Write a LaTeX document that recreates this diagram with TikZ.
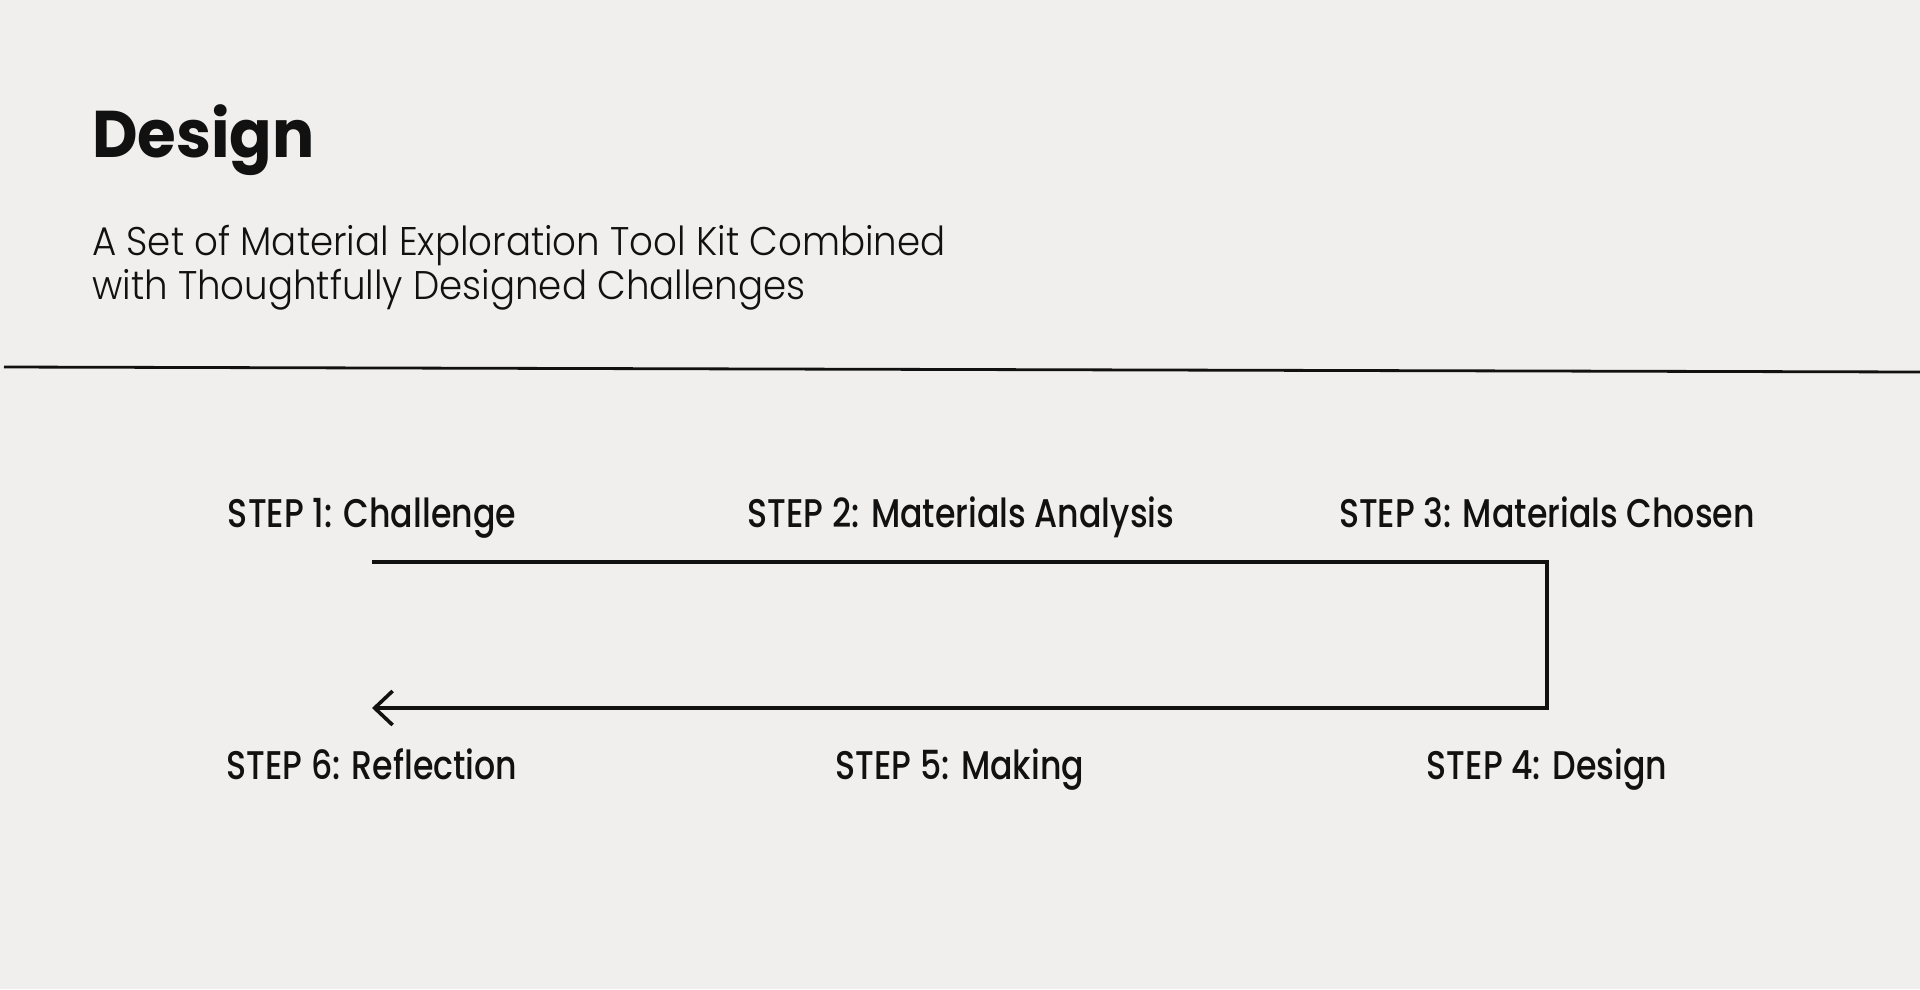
\documentclass[tikz,border=0pt]{standalone}
\usepackage{fontspec}
\setmainfont{Poppins}
\newfontfamily\titlefont{Poppins Bold}[FakeStretch=0.95]
\newfontfamily\subfont{Poppins Light}[FakeStretch=0.93]
\newfontfamily\stepfont{Poppins Medium}[FakeStretch=0.83]
\usetikzlibrary{arrows.meta}
\definecolor{paper}{HTML}{F0EFED}
\definecolor{ink}{HTML}{111111}
\tikzset{
  every picture/.style={x=1pt, y=-1pt},
  steplabel/.style={anchor=base, inner sep=0pt, text=ink,
    font=\stepfont\fontsize{40}{44}\selectfont},
  sublabel/.style={anchor=base west, inner sep=0pt, text=ink,
    font=\subfont\fontsize{40}{44}\selectfont},
  flow/.style={draw=ink, line width=4pt, line join=miter,
    -{Straight Barb[length=18pt, width=34pt, line width=3.6pt]}}}

\begin{document}
\begin{tikzpicture}
    \fill[paper] (0,0) rectangle (1920,989);
    \useasboundingbox (0,0) rectangle (1920,989);

    % heading
    \node[anchor=base west, inner sep=0pt, text=ink,
      font=\titlefont\fontsize{66}{70}\selectfont] (title) at (92,157) {Design};
    \node[sublabel] (sub1) at (92,255) {A Set of Material Exploration Tool Kit Combined};
    \node[sublabel] (sub2) at (92,299) {with Thoughtfully Designed Challenges};

    \coordinate (ruleL) at (4,367);
    \coordinate (ruleR) at (1920,372);
    \draw[ink, line width=2.8pt] (ruleL) -- (ruleR);

    % steps
    \node[steplabel] (s1) at (372,527)  {STEP 1: Challenge};
    \node[steplabel] (s2) at (961,527)  {STEP 2: Materials Analysis};
    \node[steplabel] (s3) at (1547,527) {STEP 3: Materials Chosen};
    \node[steplabel] (s4) at (1547,779) {STEP 4: Design};
    \node[steplabel] (s5) at (960,779)  {STEP 5: Making};
    \node[steplabel] (s6) at (372,779)  {STEP 6: Reflection};

    \path (s1.base) ++(0,35)  coordinate (a)
          (s3.base) ++(0,35)  coordinate (b)
          (s4.base) ++(0,-71) coordinate (c)
          (s6.base) ++(0,-71) coordinate (d);

    \draw[flow] (a) -- (b) -- (c) -- (d);
\end{tikzpicture}
\end{document}
